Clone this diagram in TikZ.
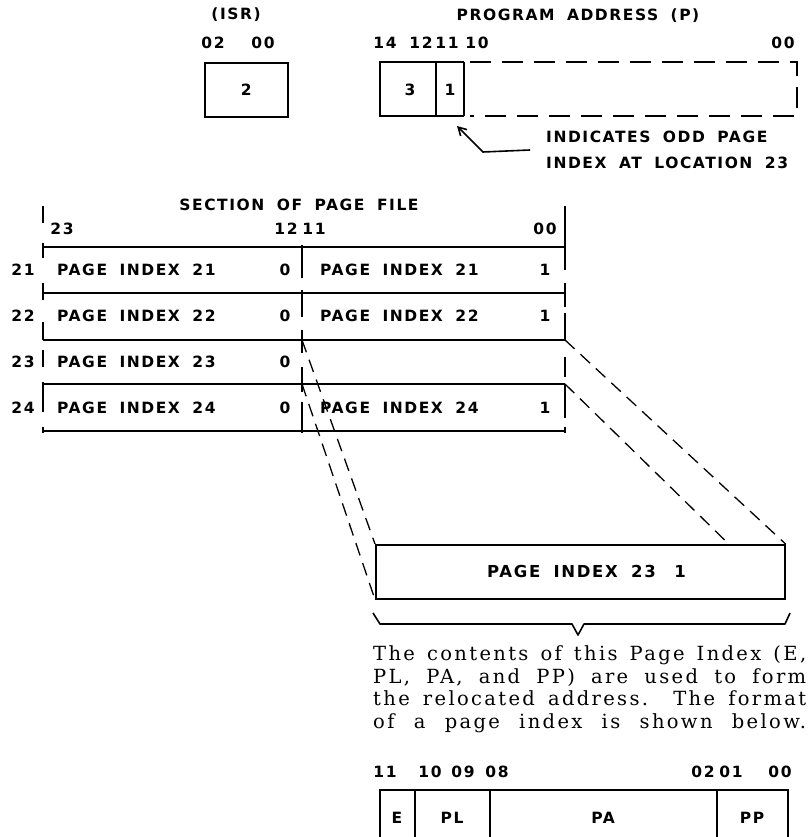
\documentclass[tikz,border=0pt]{standalone}
\usepackage{fontspec}
\usetikzlibrary{arrows.meta,calc}
\newfontfamily\lbl[LetterSpace=10,WordSpace=1.8]{DejaVu Sans}
\newfontfamily\serifp[LetterSpace=12]{DejaVu Serif}
\tikzset{
  ln/.style={line width=1.6pt},
  dsh/.style={line width=1.3pt, dash pattern=on 13pt off 8pt},
  pdsh/.style={line width=1.6pt, dash pattern=on 21pt off 11pt},
  lab/.style={font=\fontsize{15.5}{17}\selectfont\lbl\bfseries, inner sep=0pt},
  biglab/.style={font=\fontsize{16.5}{18}\selectfont\lbl\bfseries, inner sep=0pt},
  para/.style={font=\fontsize{19.5}{22}\selectfont\serifp, inner sep=0pt, anchor=base west},
}
\begin{document}
\begin{tikzpicture}[x=1pt,y=-1pt]
\useasboundingbox (0,0) rectangle (807,837);
\fill[white] (0,0) rectangle (807,837);

% ---------- ISR ----------
\node[lab] (isrT) at (236,15) {(ISR)};
\node[lab] (isr02) at (213,43) {02};
\node[lab] (isr00) at (263,43) {00};
\node[draw, ln, minimum width=83pt, minimum height=54pt, anchor=north west, inner sep=0pt] (isr) at (204,62) {};
\node[lab] (isrv) at (isr.center) {2};

% ---------- Program address ----------
\node[lab] (paT) at (578,16) {PROGRAM ADDRESS (P)};
\node[lab] (p14) at (385,43) {14};
\node[lab] (p12) at (421,43) {12};
\node[lab] (p11) at (447,43) {11};
\node[lab] (p10) at (477,43) {10};
\node[lab] (p00) at (783,43) {00};
\draw[ln] (464,62) -- (380,62) -- (380,116) -- (464,116);
\draw[ln] (436,62) -- (436,116);
\draw[ln] (464,62) -- (464,116);
\draw[pdsh] (470,62) -- (797,62) -- (797,116) -- (470,116);
\node[lab] (p3) at (410,90) {3};
\node[lab] (p1) at (450,90) {1};
\coordinate (oddbit) at (457,126);
\node[anchor=west, align=left, inner sep=0pt, font=\fontsize{15.5}{26}\selectfont\lbl\bfseries] (note) at (546,150) {INDICATES ODD PAGE\\INDEX AT LOCATION 23};
\draw[ln, -{Straight Barb[length=8pt,width=9pt]}] ([xshift=-16pt]note.west) -- (483,152) -- (oddbit);

% ---------- Section of page file ----------
\node[lab] (secT) at (299,205) {SECTION OF PAGE FILE};
\node[lab] (s23) at (62,229) {23};
\node[lab] (s12) at (286,229) {12};
\node[lab] (s11) at (314,229) {11};
\node[lab] (s00) at (545,229) {00};

\foreach \yy in {247,293,340,384,431} \draw[ln] (43,\yy) -- (565,\yy);
% left edge
\foreach \a/\b in {206/223,243/258,283/300,322/340,350/367,382/412,427/433} \draw[ln] (43,\a) -- (43,\b);
% right edge
\foreach \a/\b in {206/270,283/307,313/340,357/377,385/418,427/433} \draw[ln] (565,\a) -- (565,\b);
% middle divider
\foreach \a/\b in {245/278,290/317,330/353,367/392,402/433} \draw[ln] (302,\a) -- (302,\b);

\node[lab] (n21) at (23,270) {21};
\node[lab] (n22) at (23,316) {22};
\node[lab] (n23) at (23,362) {23};
\node[lab] (n24) at (23,408) {24};

\node[lab, anchor=west] (l21) at (57,270) {PAGE INDEX 21};
\node[lab] (z21) at (285,270) {0};
\node[lab, anchor=west] (r21) at (320,270) {PAGE INDEX 21};
\node[lab] (o21) at (545,270) {1};
\node[lab, anchor=west] (l22) at (57,316) {PAGE INDEX 22};
\node[lab] (z22) at (285,316) {0};
\node[lab, anchor=west] (r22) at (320,316) {PAGE INDEX 22};
\node[lab] (o22) at (545,316) {1};
\node[lab, anchor=west] (l23) at (57,362) {PAGE INDEX 23};
\node[lab] (z23) at (285,362) {0};
\node[lab, anchor=west] (l24) at (57,408) {PAGE INDEX 24};
\node[lab] (z24) at (285,408) {0};
\node[lab, anchor=west] (r24) at (320,408) {PAGE INDEX 24};
\node[lab] (o24) at (545,408) {1};

\coordinate (c23tl) at (302,340);
\coordinate (c23bl) at (302,384);
\coordinate (c23tr) at (565,340);
\coordinate (c23br) at (565,384);

% ---------- expanded page index 23 ----------
\node[draw, ln, fill=white, minimum width=409pt, minimum height=54pt, anchor=north west, inner sep=0pt] (pi23) at (375,544) {};
\node[biglab, anchor=west] (pi23t) at (487,571) {PAGE INDEX 23};
\node[biglab] (pi23o) at (680,571) {1};

\draw[dsh] (c23tl) -- (pi23.north west);
\draw[dsh] (c23bl) -- (pi23.south west);
\draw[dsh] (c23tr) -- (pi23.north east);
\draw[dsh] (c23br) -- ($(c23br)!0.748!(pi23.south east)$);

% brace
\coordinate (brtip) at (578,635);
\draw[ln, line join=round] (373,613) -- (380,624) -- (572,624) -- (brtip) -- (584,624) -- (785,624) -- (790,613);

% ---------- paragraph ----------
\node[para] (t1) at (373,660) {\makebox[433pt][s]{The contents of this Page Index (E,}};
\node[para] (t2) at (373,683) {\makebox[433pt][s]{PL, PA, and PP) are used to form}};
\node[para] (t3) at (373,705) {\makebox[433pt][s]{the relocated address. The format}};
\node[para] (t4) at (373,728) {\makebox[433pt][s]{of a page index is shown below.}};

% ---------- format ----------
\node[lab] (f11) at (385,772) {11};
\node[lab] (f10) at (430,772) {10};
\node[lab] (f09) at (463,772) {09};
\node[lab] (f08) at (497,772) {08};
\node[lab] (f02) at (703,772) {02};
\node[lab] (f01) at (731,772) {01};
\node[lab] (f00) at (780,772) {00};
\draw[ln] (380,837) -- (380,790) -- (788,790) -- (788,837);
\foreach \xx in {415,490,717} \draw[ln] (\xx,790) -- (\xx,837);
\node[lab] (fE) at (397,818) {E};
\node[lab] (fPL) at (452,818) {PL};
\node[lab] (fPA) at (603,818) {PA};
\node[lab] (fPP) at (752,818) {PP};
\end{tikzpicture}
\end{document}
